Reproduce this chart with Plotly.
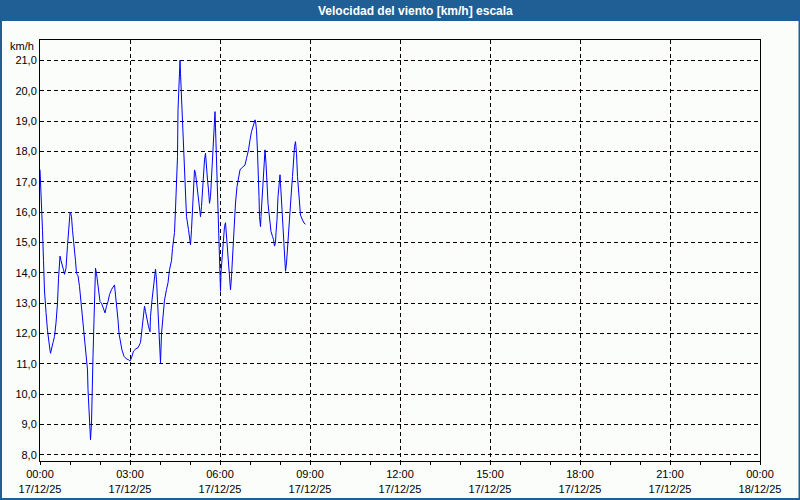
import pandas as pd
import plotly.graph_objects as go

# minutes after 17/12/25 00:00
minutes = [0, 3, 5, 7, 9, 12, 15, 20, 21, 26, 29, 32, 35, 37, 40, 42, 44, 47, 49, 52,
           55, 57, 60, 61, 63, 65, 68, 71, 73, 76, 79, 81, 84, 87, 89, 92, 95, 96, 98, 99,
           101, 103, 104, 106, 108, 109, 111, 113, 115, 117, 120, 123, 127, 130, 133,
           136, 139, 143, 149, 153, 156, 158, 161, 164, 168, 173, 177, 180, 183, 187,
           192, 196, 201, 203, 206, 209, 211, 214, 217, 220, 221, 224, 227, 229, 231,
           233, 235, 237, 239, 241, 243, 246, 249, 253, 256, 259,
           263, 265, 267, 269, 271, 273, 275, 276, 278, 280, 281, 283, 285, 287, 289,
           291, 293, 297, 300, 301, 303, 305, 307, 309, 311, 313, 316, 319, 321, 323,
           325, 327, 329, 331, 333, 335, 337, 339, 341, 343, 345, 347, 349, 350, 351,
           353, 355, 357, 359, 360, 361, 362, 364, 367, 369, 371, 373, 375, 377, 379,
           381, 383, 385, 387, 389,
           391, 394, 397, 400, 403, 407, 410, 413, 417, 420, 423, 427, 430, 431, 433,
           435, 437, 438, 439, 441, 442, 444, 446, 448, 450, 452, 454, 456, 458, 460,
           462, 465, 467, 469, 471, 472, 474, 476, 478, 480, 481, 483, 485, 487, 489,
           491, 493, 495, 497, 499, 501, 503, 505, 507, 509, 511, 513, 515, 517, 519,
           521, 525, 528, 531]

wind_kmh = [17.4, 16.4, 15.4, 14.4, 13.4, 12.7, 12.1, 11.45, 11.35, 11.7, 11.9, 12.35, 13.0, 13.8, 14.55, 14.4, 14.3, 14.1, 13.95, 14.15,
            14.9, 15.4, 15.97, 16.0, 15.85, 15.4, 14.98, 14.4, 13.98, 13.9, 13.55, 13.2, 12.9, 12.35, 12.0, 11.47, 10.8, 10.15, 9.5, 8.83,
            8.5, 9.05, 10.15, 11.25, 12.45, 13.55, 14.15, 13.98, 13.65, 13.3, 13.05, 13.0, 12.85, 12.68, 12.9,
            13.05, 13.28, 13.45, 13.6, 13.0, 12.45, 12.0, 11.7, 11.45, 11.25, 11.16, 11.14, 11.09, 11.2, 11.42,
            11.5, 11.53, 11.7, 12.0, 12.45, 12.9, 12.73, 12.45, 12.23, 12.06, 12.56, 13.1, 13.55, 13.88, 14.12,
            13.77, 13.0, 12.0, 11.36, 11.03, 12.0, 12.66, 13.1, 13.45, 13.67, 14.1,
            14.4, 14.8, 15.0, 15.33, 16.1, 16.84, 17.83, 19.37, 20.46, 21.0, 20.57, 19.7, 18.8, 17.93, 16.95,
            16.4, 15.85, 15.42, 15.03, 14.92, 15.42, 16.18, 16.84, 17.39, 17.28, 16.95, 16.62, 16.18, 15.85, 16.18,
            16.84, 17.28, 17.72, 17.94, 17.39, 17.06, 16.73, 16.29, 16.51, 17.06, 17.72, 18.27, 18.98, 19.31, 18.8,
            17.72, 16.73, 15.74, 14.87, 13.99, 13.39, 14.0, 14.55, 15.1, 15.53, 15.65, 15.2, 14.65, 14.21, 13.77,
            13.44, 13.88, 14.55, 15.2, 15.97,
            16.3, 16.84, 17.17, 17.39, 17.45, 17.5, 17.55, 17.77, 18.05, 18.38, 18.65, 18.87, 19.04, 19.0, 18.7,
            17.99, 17.28, 16.51, 15.85, 15.52, 15.85, 16.4, 17.17, 17.77, 18.05, 17.61, 16.84, 16.29, 15.97, 15.64,
            15.36, 15.2, 15.1, 14.88, 15.0, 15.32, 15.75, 16.51, 17.06, 17.23, 16.95, 16.4, 15.75, 15.0, 14.55,
            14.05, 14.32, 14.88, 15.32, 15.75, 16.18, 16.73, 17.17, 17.72, 18.16, 18.32, 17.93, 17.17, 16.62, 16.18,
            15.9, 15.74, 15.64, 15.6]

title_text = "Velocidad del viento [km/h] escala"
unit_text = "km/h"
x_start = "2025-12-17 00:00"
x_end = "2025-12-18 00:00"
y_tickvals = [8, 9, 10, 11, 12, 13, 14, 15, 16, 17, 18, 19, 20, 21]

times = pd.Timestamp(x_start) + pd.to_timedelta(minutes, unit="min")

BORDER = "#1f5f96"
INNER = "#fbfdfb"
W, H = 800, 500
L, R, T, B = 40, 40, 40, 39
PW, PH = W - L - R, H - T - B


def px_x(px):
    return (px - L) / PW


def px_y(py):
    return (H - B - py) / PH


fig = go.Figure()
fig.add_trace(go.Scatter(x=times, y=wind_kmh, mode="lines",
                         line=dict(color="#0000ff", width=1), hoverinfo="x+y"))

fig.add_shape(type="rect", xref="paper", yref="paper",
              x0=px_x(2), x1=px_x(798.5), y0=px_y(498), y1=px_y(21),
              fillcolor=INNER, line=dict(width=0), layer="below")

fig.add_annotation(text="<b>" + title_text + "</b>", xref="paper", yref="paper",
                   x=px_x(415), y=px_y(10.5), xanchor="center", yanchor="middle",
                   showarrow=False, font=dict(color="white", size=12, family="Liberation Sans"))
fig.add_annotation(text=unit_text, xref="paper", yref="paper",
                   x=px_x(36), y=px_y(46), xanchor="right", yanchor="middle",
                   showarrow=False, font=dict(color="black", size=11, family="Liberation Sans"))

fig.update_layout(
    width=W, height=H,
    margin=dict(l=L, r=R, t=T, b=B, pad=0, autoexpand=False),
    paper_bgcolor=BORDER,
    plot_bgcolor=INNER,
    showlegend=False,
    separators=",.",
    font=dict(family="Liberation Sans", size=11, color="black"),
)
fig.update_xaxes(
    range=[x_start, x_end], automargin=False,
    tickmode="linear", tick0=x_start, dtick=3 * 3600000,
    tickformat="%H:%M<br>%d/%m/%y",
    showgrid=True, gridcolor="black", gridwidth=1, griddash="4px,3px",
    showline=True, linecolor="black", linewidth=1, mirror=True,
    ticks="outside", ticklen=3, tickcolor="black",
    minor=dict(dtick=3600000, ticks="outside", ticklen=3, tickcolor="black", showgrid=False),
    zeroline=False,
)
fig.update_yaxes(
    range=[7.8, 21.67], automargin=False,
    tickmode="array", tickvals=y_tickvals, tickformat=".1f",
    showgrid=True, gridcolor="black", gridwidth=1, griddash="4px,3px",
    showline=True, linecolor="black", linewidth=1, mirror=True,
    ticks="", zeroline=False,
)

fig.write_html("out.html", config={"displayModeBar": False},
               post_script="document.body.style.margin='0';document.body.style.padding='0';"
                           "document.documentElement.style.overflow='hidden';")
